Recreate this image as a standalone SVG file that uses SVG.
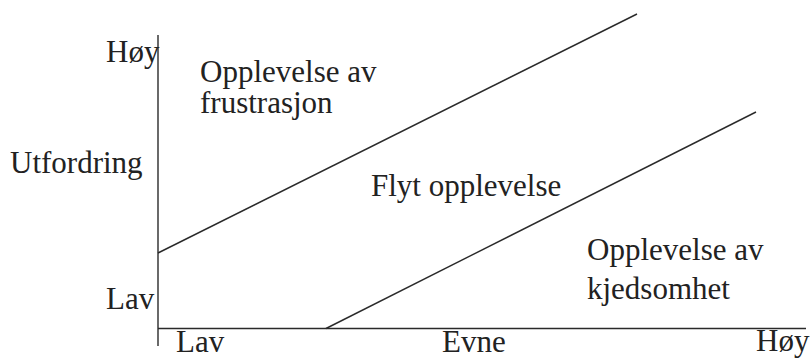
<svg xmlns="http://www.w3.org/2000/svg" width="811" height="358" viewBox="0 0 811 358">
<style>
text{font-family:"Liberation Serif","Times New Roman",serif;font-size:31px;fill:#222}
.ln{stroke:#2a2a2a;stroke-width:1.4;fill:none}
</style>
<rect width="811" height="358" fill="#fff"/>
<g id="axes">
<line class="ln" x1="158" y1="35" x2="158" y2="346"/>
<line class="ln" x1="158" y1="328.5" x2="806" y2="328.5"/>
</g>
<g id="connectors">
<line class="ln" x1="158" y1="253" x2="637" y2="14"/>
<line class="ln" x1="326" y1="328.5" x2="756" y2="112"/>
</g>
<g id="labels">
<text x="106" y="62">Høy</text>
<text x="10" y="173">Utfordring</text>
<text x="106" y="309">Lav</text>
<text x="176" y="352">Lav</text>
<text x="442" y="352">Evne</text>
<text x="756" y="351">Høy</text>
</g>
<g id="frustrasjon">
<text x="200" y="82">Opplevelse av</text>
<text x="200" y="113">frustrasjon</text>
</g>
<g id="flyt">
<text x="371" y="196">Flyt opplevelse</text>
</g>
<g id="kjedsomhet">
<text x="587" y="260">Opplevelse av</text>
<text x="587" y="299">kjedsomhet</text>
</g>
</svg>
